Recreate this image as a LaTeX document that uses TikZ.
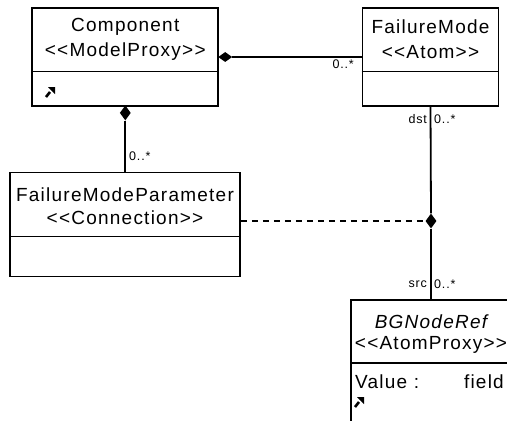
\documentclass[tikz,border=0pt]{standalone}
\usepackage{fontspec}
\setmainfont{Liberation Sans}[LetterSpace=6.5]
\usetikzlibrary{shapes.geometric}

\tikzset{
  classbox/.style={draw, line width=1.8pt, inner sep=0pt},
  sepline/.style={line width=1.8pt},
  conn/.style={line width=1.8pt},
  dashconn/.style={line width=1.8pt, dash pattern=on 6pt off 5pt},
  title/.style={font=\fontsize{19}{22}\selectfont, inner sep=0pt},
  mult/.style={font=\fontsize{12.5}{14}\selectfont, inner sep=0pt},
  hdiam/.style={diamond, fill=black, inner sep=0pt, minimum width=14pt, minimum height=10pt},
  vdiam/.style={diamond, fill=black, inner sep=0pt, minimum width=11pt, minimum height=15pt},
  icon/.style={line width=2.6pt},
}

\begin{document}
\begin{tikzpicture}[x=1pt, y=-1pt]
  \useasboundingbox (0,0) rectangle (507,421);
  \fill[white] (0,0) rectangle (507,421);

  % Component
  \node[classbox, minimum width=186pt, minimum height=98pt] (comp) at (125.3,57) {};
  \draw[sepline] (comp.west |- 0,71.5) -- (comp.east |- 0,71.5);
  \node[title] (compname) at (125.3,27) {Component};
  \node[title] (compster) at (125.3,52) {<{}<ModelProxy>{}>};
  \coordinate (compicon) at (46,97);
  \draw[icon] (compicon) -- ++(4,-5);
  \fill (compicon) ++(2,-10) -- ++(7,0) -- ++(0,7) -- cycle;

  % FailureMode
  \node[classbox, minimum width=136pt, minimum height=98pt] (fm) at (430.5,57) {};
  \draw[sepline] (fm.west |- 0,71.5) -- (fm.east |- 0,71.5);
  \node[title] (fmname) at (430.5,27) {FailureMode};
  \node[title] (fmster) at (430.5,52) {<{}<Atom>{}>};

  % FailureModeParameter
  \node[classbox, minimum width=230pt, minimum height=104pt] (fmp) at (125,224.5) {};
  \draw[sepline] (fmp.west |- 0,236.5) -- (fmp.east |- 0,236.5);
  \node[title] (fmpname) at (125,195) {FailureModeParameter};
  \node[title] (fmpster) at (125,218) {<{}<Connection>{}>};

  % BGNodeRef (runs past the right and bottom edges)
  \begin{scope}
    \clip (0,0) rectangle (507,421);
    \node[classbox, minimum width=160pt, minimum height=150pt] (bg) at (431,375) {};
    \draw[sepline] (bg.west |- 0,363) -- (bg.east |- 0,363);
  \end{scope}
  \node[title, font=\fontsize{19}{22}\selectfont\itshape] (bgname) at (431,322) {BGNodeRef};
  \node[title] (bgster) at (431,345) {<{}<AtomProxy>{}>};
  \node[title, anchor=west] (bgval) at (355,382) {Value :};
  \node[title, anchor=east] (bgfield) at (504,382) {field};
  \coordinate (bgicon) at (355,407);
  \draw[icon] (bgicon) -- ++(4,-5);
  \fill (bgicon) ++(2,-10) -- ++(7,0) -- ++(0,7) -- cycle;

  % Component <>-- FailureMode
  \node[hdiam] (d1) at ([xshift=6pt]comp.east |- 0,57) {};
  \draw[conn] (d1.east) -- (fm.west |- d1.east);
  \node[mult, anchor=north east] (m1) at (354,60) {0..*};

  % Component <>-- FailureModeParameter
  \node[vdiam] (d2) at ([yshift=-6pt]comp.south) {};
  \draw[conn] (d2.south) -- (fmp.north -| d2.south);
  \node[mult, anchor=west] (m2) at (129,156) {0..*};

  % FailureMode -- BGNodeRef, with the connection joining at a diamond
  \coordinate (fmout) at (fm.south);
  \node[vdiam] (d3) at (431,221) {};
  \coordinate (bgin) at (431,300);
  \draw[conn] (fmout) -- (d3.north);
  \draw[conn] (d3.south) -- (bgin);
  \draw[dashconn] (fmp.east |- d3.west) -- (d3.west);

  \node[mult, anchor=east] (dst) at (427,119) {dst};
  \node[mult, anchor=west] (m3) at (434,119) {0..*};
  \node[mult, anchor=east] (src) at (427,284) {src};
  \node[mult, anchor=west] (m4) at (434,284) {0..*};
\end{tikzpicture}
\end{document}
